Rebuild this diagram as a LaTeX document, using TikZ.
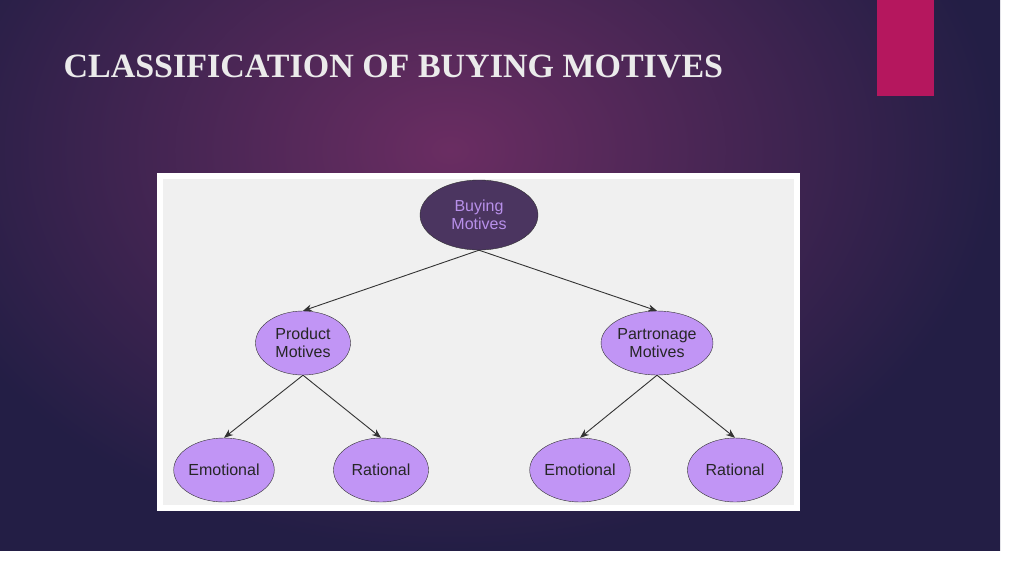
\documentclass[tikz,border=0pt]{standalone}
\usepackage{fontspec}
\setmainfont{Liberation Serif}
\newfontfamily\nodefont{Liberation Sans}
\usetikzlibrary{shapes.geometric,arrows.meta}
\definecolor{bgouter}{HTML}{231E45}
\definecolor{bginner}{HTML}{6A2D62}
\definecolor{accent}{HTML}{B5175E}
\definecolor{panel}{HTML}{F0F0F0}
\definecolor{rootfill}{HTML}{4B3560}
\definecolor{roottext}{HTML}{B890EA}
\definecolor{leaffill}{HTML}{C195F5}

\begin{document}
\begin{tikzpicture}[x=1pt,y=-1pt,
    motive/.style={ellipse, draw=black!80, fill=leaffill, minimum width=95pt, minimum height=64pt,
        inner sep=0pt, align=center, font=\nodefont\fontsize{16}{18}\selectfont, text=black!85},
    root/.style={motive, fill=rootfill, text=roottext, minimum width=118pt, minimum height=70pt},
    link/.style={-{Stealth[length=9pt,width=7pt]}, black!80, line width=0.9pt}]
    % Background
    \clip (0,0) rectangle (1024,576);
    \shade[inner color=bginner, outer color=bgouter] (-100,-250) rectangle (1000,550);
    \fill[accent] (877,0) rectangle (934,96);
    \node[anchor=west, text=white!92!black, font=\bfseries\fontsize{34}{38}\selectfont] (title) at (60,66) {CLASSIFICATION OF BUYING MOTIVES};

    % Panel
    \fill[white] (157,173) rectangle (800,511);
    \fill[panel] (163,179) rectangle (794,505);

    % Nodes
    \node[root] (buying) at (479,215) {Buying\\Motives};
    \node[motive] (product) at (303,343) {Product\\Motives};
    \node[motive] (patron) at (657,343) {Partronage\\Motives};
    \node[motive] (emo1) at (224,470) {Emotional};
    \node[motive] (rat1) at (381,470) {Rational};
    \node[motive] (emo2) at (580,470) {Emotional};
    \node[motive] (rat2) at (735,470) {Rational};

    % Arrows
    \draw[link] (buying.south) -- (product.north);
    \draw[link] (buying.south) -- (patron.north);
    \draw[link] (product.south) -- (emo1.north);
    \draw[link] (product.south) -- (rat1.north);
    \draw[link] (patron.south) -- (emo2.north);
    \draw[link] (patron.south) -- (rat2.north);
\end{tikzpicture}
\end{document}
